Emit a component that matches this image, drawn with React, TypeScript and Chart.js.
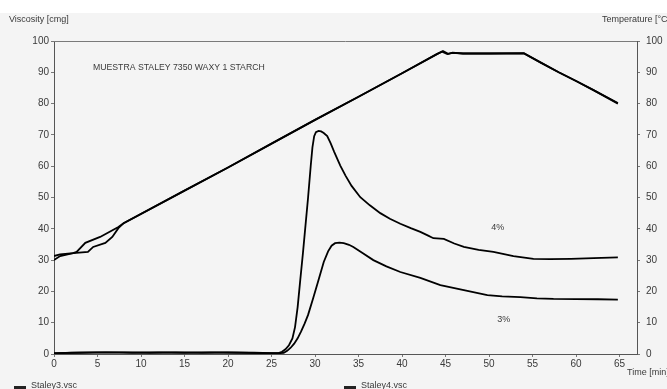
import React, { useEffect, useRef } from "react";
import { Chart, registerables } from "chart.js";

Chart.register(...registerables);

// ---- Data ----
const xTicks = [0, 5, 10, 15, 20, 25, 30, 35, 40, 45, 50, 55, 60, 65];
const yTicks = [0, 10, 20, 30, 40, 50, 60, 70, 80, 90, 100];

// Staley4.vsc viscosity (4%)
const visc4Time = [0, 2, 5, 8, 11, 14, 17, 20, 23, 25, 25.8, 26.2, 26.6, 27.0, 27.4, 27.7, 28.0, 28.3, 28.6, 28.9, 29.2, 29.5, 29.7, 29.9, 30.1, 30.4, 30.7, 31.0, 31.4, 31.8, 32.2, 32.9, 33.5, 34.2, 35.2, 36.3, 37.5, 38.6, 39.8, 41, 42.1, 43, 43.6, 44.8, 46, 47.1, 48.8, 50.5, 52.8, 55.1, 57, 59.4, 62, 64.8];
const visc4Values = [0.2, 0.4, 0.5, 0.5, 0.4, 0.5, 0.4, 0.5, 0.4, 0.3, 0.3, 0.7, 1.5, 2.8, 5, 8.6, 15, 23.6, 32, 41, 50, 60, 66, 69.6, 70.9, 71.3, 71.1, 70.6, 69.6, 67.3, 64.6, 60.2, 57, 53.7, 50.1, 47.5, 45, 43.2, 41.6, 40.2, 39, 37.8, 37, 36.8, 35.3, 34.2, 33.3, 32.6, 31.3, 30.4, 30.3, 30.4, 30.6, 30.9];

// Staley3.vsc viscosity (3%)
const visc3Time = [0, 3, 6, 9, 12, 15, 18, 21, 24, 26, 26.4, 26.8, 27.2, 27.6, 28, 28.4, 28.8, 29.2, 29.8, 30.3, 31, 31.5, 31.9, 32.3, 32.8, 33.3, 33.9, 34.4, 35.5, 36.7, 38.2, 39.8, 42.1, 44.4, 47.1, 49.8, 51.5, 53.6, 55.5, 57.4, 60, 62.5, 64.8];
const visc3Values = [0.3, 0.4, 0.5, 0.4, 0.5, 0.4, 0.5, 0.4, 0.3, 0.3, 0.4, 1, 2, 3.3, 5, 7.2, 9.7, 12.5, 18, 22.7, 29.4, 32.8, 34.6, 35.4, 35.6, 35.4, 34.9, 34.2, 32.2, 30, 28, 26.2, 24.3, 22, 20.4, 18.8, 18.4, 18.2, 17.8, 17.6, 17.5, 17.5, 17.4];

// Staley3.vsc temperature
const temp3Time = [0, 0.7, 2.2, 2.6, 3.6, 5.3, 7.4, 8, 15, 20, 25, 30, 35, 40, 44, 44.7, 45.3, 45.8, 47, 50, 54, 56, 58, 60, 62, 64.8];
const temp3Values = [31.3, 31.8, 32.2, 32.6, 35.5, 37.4, 40.6, 41.8, 52.2, 59.6, 67.2, 74.8, 82.2, 89.7, 95.8, 96.8, 95.9, 96.3, 96, 96, 96.1, 93, 90, 87.2, 84.3, 80.2];

// Staley4.vsc temperature
const temp4Time = [0, 0.7, 2.2, 3.9, 4.5, 5.9, 6.7, 7.4, 8, 15, 20, 25, 30, 35, 40, 44, 44.6, 45.2, 45.8, 47, 50, 54, 56, 58, 60, 62, 64.8];
const temp4Values = [30, 31.3, 32.2, 32.6, 34.2, 35.5, 37.4, 40.2, 41.8, 52.2, 59.6, 67.2, 74.8, 82.2, 89.7, 95.8, 96.6, 95.8, 96.2, 96, 96, 96, 93, 90, 87.2, 84.3, 80];

const legendLabels = ["Staley3.vsc", "Staley4.vsc"];
const chartNote = "MUESTRA STALEY 7350 WAXY 1 STARCH";
const leftTitle = "Viscosity [cmg]";
const rightTitle = "Temperature [°C]";
const xTitle = "Time [min]";

const toPoints = (t: number[], v: number[]) => t.map((x, i) => ({ x, y: v[i] }));

const FONT = "Liberation Sans, Arial, sans-serif";
const TXT = "#3a3a3a";

const decor = {
  id: "decor",
  beforeDraw(chart: any) {
    const { ctx, width, height } = chart;
    ctx.save();
    ctx.fillStyle = "#ffffff";
    ctx.fillRect(0, 0, width, height);
    ctx.fillStyle = "#f4f4f4";
    ctx.fillRect(0, 13, width, height - 13);
    ctx.restore();
  },
  afterDraw(chart: any) {
    const { ctx, chartArea } = chart;
    const xs = chart.scales.x;
    const ys = chart.scales.y;
    ctx.save();
    ctx.strokeStyle = "#7a7a7a";
    ctx.lineWidth = 1;
    ctx.beginPath();
    ctx.moveTo(chartArea.left, chartArea.top + 0.5);
    ctx.lineTo(chartArea.right, chartArea.top + 0.5);
    ctx.stroke();

    ctx.fillStyle = TXT;
    ctx.font = `9px ${FONT}`;
    ctx.textBaseline = "middle";
    ctx.textAlign = "left";
    ctx.fillText(leftTitle, 9, 20);
    ctx.fillText(rightTitle, 602, 20);
    ctx.fillText(xTitle, 627, 373);

    ctx.font = `8.7px ${FONT}`;
    ctx.fillText(chartNote, 93, 68);
    ctx.font = `9px ${FONT}`;
    ctx.textAlign = "center";
    ctx.fillText("4%", xs.getPixelForValue(51.0), ys.getPixelForValue(40.3));
    ctx.fillText("3%", xs.getPixelForValue(51.7), ys.getPixelForValue(11));

    const lx = [14, 344];
    ctx.textAlign = "left";
    legendLabels.forEach((lab, i) => {
      ctx.strokeStyle = "#222";
      ctx.lineWidth = 3;
      ctx.beginPath();
      ctx.moveTo(lx[i], 387.5);
      ctx.lineTo(lx[i] + 12, 387.5);
      ctx.stroke();
      ctx.fillText(lab, lx[i] + 17, 386);
    });
    ctx.restore();
  },
};

const lineDs = (label: string, t: number[], v: number[]) => ({
  label,
  data: toPoints(t, v),
  borderColor: "#000",
  borderWidth: 1.8,
  pointRadius: 0,
  fill: false,
  tension: 0,
  yAxisID: "y",
});

export default function App() {
  const ref = useRef<HTMLCanvasElement | null>(null);
  useEffect(() => {
    if (!ref.current) return;
    const tickFont = { family: FONT, size: 10 };
    const chart = new Chart(ref.current, {
      type: "line",
      data: {
        datasets: [
          lineDs("Staley3.vsc", visc3Time, visc3Values),
          lineDs("Staley3.vsc temp", temp3Time, temp3Values),
          lineDs("Staley4.vsc", visc4Time, visc4Values),
          lineDs("Staley4.vsc temp", temp4Time, temp4Values),
        ],
      },
      options: {
        animation: false,
        responsive: false,
        devicePixelRatio: 1,
        layout: { padding: { top: 41, left: 0, right: 0, bottom: 0 } },
        plugins: { legend: { display: false }, tooltip: { enabled: false }, title: { display: false } },
        scales: {
          x: {
            type: "linear",
            position: "bottom",
            min: 0,
            max: 67,
            afterBuildTicks: (s: any) => { s.ticks = xTicks.map((value) => ({ value })); },
            afterFit: (s: any) => { s.height = 35; },
            ticks: { font: tickFont, color: TXT, padding: 1, maxRotation: 0, autoSkip: false },
            grid: { drawOnChartArea: false, drawTicks: true, tickLength: 3, color: "#777" },
            border: { display: true, color: "#555", width: 1 },
          },
          y: {
            type: "linear",
            position: "left",
            min: 0,
            max: 100,
            afterBuildTicks: (s: any) => { s.ticks = yTicks.map((value) => ({ value })); },
            afterFit: (s: any) => { s.width = 54; },
            ticks: { font: tickFont, color: TXT, padding: 2 },
            grid: { drawOnChartArea: false, drawTicks: true, tickLength: 3, color: "#777" },
            border: { display: true, color: "#555", width: 1 },
          },
          y2: {
            type: "linear",
            position: "right",
            min: 0,
            max: 100,
            afterBuildTicks: (s: any) => { s.ticks = yTicks.map((value) => ({ value })); },
            afterFit: (s: any) => { s.width = 30; },
            ticks: { font: tickFont, color: TXT, padding: 6 },
            grid: { drawOnChartArea: false, drawTicks: true, tickLength: 3, color: "#777" },
            border: { display: true, color: "#555", width: 1 },
          },
        },
      },
      plugins: [decor],
    });
    return () => chart.destroy();
  }, []);
  return (
    <div style={{ position: "fixed", left: 0, top: 0, width: 667, height: 389, overflow: "hidden" }}>
      <canvas ref={ref} width={667} height={389} style={{ display: "block", width: 667, height: 389 }} />
    </div>
  );
}
